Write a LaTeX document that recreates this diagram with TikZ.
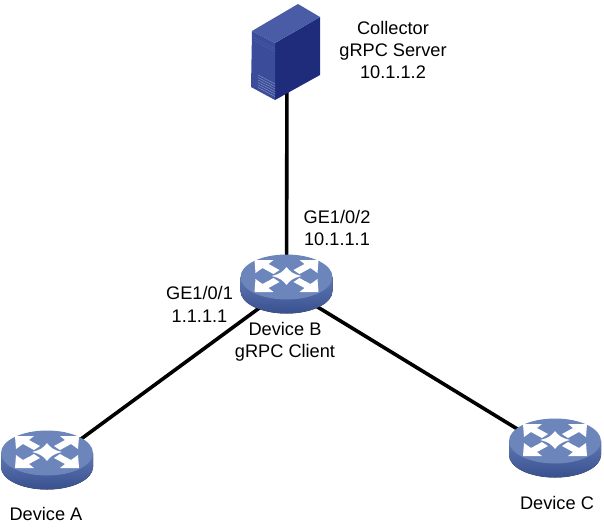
\documentclass[tikz,border=0pt]{standalone}
\usepackage{fontspec}
\setmainfont{Liberation Sans}
\definecolor{rtop}{HTML}{6C86BC}
\definecolor{rside}{HTML}{5E78B2}
\definecolor{rsidedk}{HTML}{3A5090}
\definecolor{srvfront}{HTML}{3A4C9A}
\definecolor{srvside}{HTML}{1F2C7C}
\definecolor{srvtop}{HTML}{4A5CA6}
\tikzset{
  x=1pt,y=-1pt,
  anchorbox/.style={inner sep=0pt,minimum size=1pt},
  link/.style={line width=3.6pt,black},
  lbl/.style={font=\fontsize{18.2}{22.3}\selectfont,align=center,inner sep=0pt,text=black},
  wave/.style={rtop,line width=2pt,line cap=round},
  router/.pic={
    \begin{scope}[yshift=11pt]
    \fill[top color=rside,bottom color=rsidedk] (-46,0) -- (-46,14) arc[start angle=180,end angle=0,x radius=46,y radius=22.5] -- (46,0) -- cycle;
    \fill[rtop] (0,0) ellipse[x radius=46,y radius=22.5];
    \fill[white] (-32,-17) -- (-13,-17) -- (-18,-13) -- (-7,-7) -- (-13,-3) -- (-24,-9) -- (-31,-4) -- cycle;
    \fill[white] (32,-17) -- (13,-17) -- (18,-13) -- (7,-7) -- (13,-3) -- (24,-9) -- (31,-4) -- cycle;
    \fill[white] (-32,15) -- (-13,15) -- (-18,11) -- (-7,5) -- (-13,1) -- (-24,7) -- (-31,2) -- cycle;
    \fill[white] (32,15) -- (13,15) -- (18,11) -- (7,5) -- (13,1) -- (24,7) -- (31,2) -- cycle;
    \fill[white] (-15,-1) .. controls (-6,-3) and (-3,-6) .. (0,-10) .. controls (3,-6) and (6,-3) .. (15,-1) .. controls (6,1) and (3,4) .. (0,8) .. controls (-3,4) and (-6,1) .. (-15,-1) -- cycle;
    \draw[wave] (-11,-11) .. controls (-6,-8) and (-3,-12) .. (1,-11) .. controls (4,-10) and (7,-8) .. (11,-11);
    \draw[wave] (-11,9) .. controls (-6,6) and (-3,10) .. (1,9) .. controls (4,8) and (7,6) .. (11,9);
    \draw[wave] (-19,-4) .. controls (-14,-3) and (-15,1) .. (-19,3);
    \draw[wave] (19,-4) .. controls (14,-3) and (15,1) .. (19,3);
    \end{scope}
  }
}
\begin{document}
\begin{tikzpicture}
\useasboundingbox (0,0) rectangle (604,530);
\node[anchorbox] (srv) at (287,60) {};
\node[anchorbox] (devA) at (47,464) {};
\node[anchorbox] (devB) at (286.5,288) {};
\node[anchorbox] (devC) at (555,452) {};
\draw[link] (srv.center) -- (devB.center);
\draw[link] (devB.center) -- (devA.center);
\draw[link] (devB.center) -- (devC.center);
\pic at (devA) {router};
\pic at (devB) {router};
\pic at (devC) {router};
% server
\fill[srvside] (275,43) -- (320,17) -- (320,75) -- (275,100) -- cycle;
\fill[srvtop] (252,31) -- (298,4) -- (320,17) -- (275,43) -- cycle;
\fill[srvfront] (252,31) -- (275,43) -- (275,100) -- (251,87) -- cycle;
\draw[srvtop,line width=.6pt] (253,37) -- (275,49) (254,40) -- (275,52);
\foreach \d in {0,2.5,...,12.5}
  \draw[srvtop!70!white,line width=.5pt] (258,75+\d) -- (275,84+\d);
\node[lbl] (tsrv) at (393,50) {Collector\\gRPC Server\\10.1.1.2};
\node[lbl] (tport2) at (337,228) {GE1/0/2\\10.1.1.1};
\node[lbl] (tport1) at (199.5,304.5) {GE1/0/1\\1.1.1.1};
\node[lbl] (tb) at (285,342) {Device B\\gRPC Client};
\node[lbl] (ta) at (46,514) {Device A};
\node[lbl] (tc) at (557,503) {Device C};
\end{tikzpicture}
\end{document}
